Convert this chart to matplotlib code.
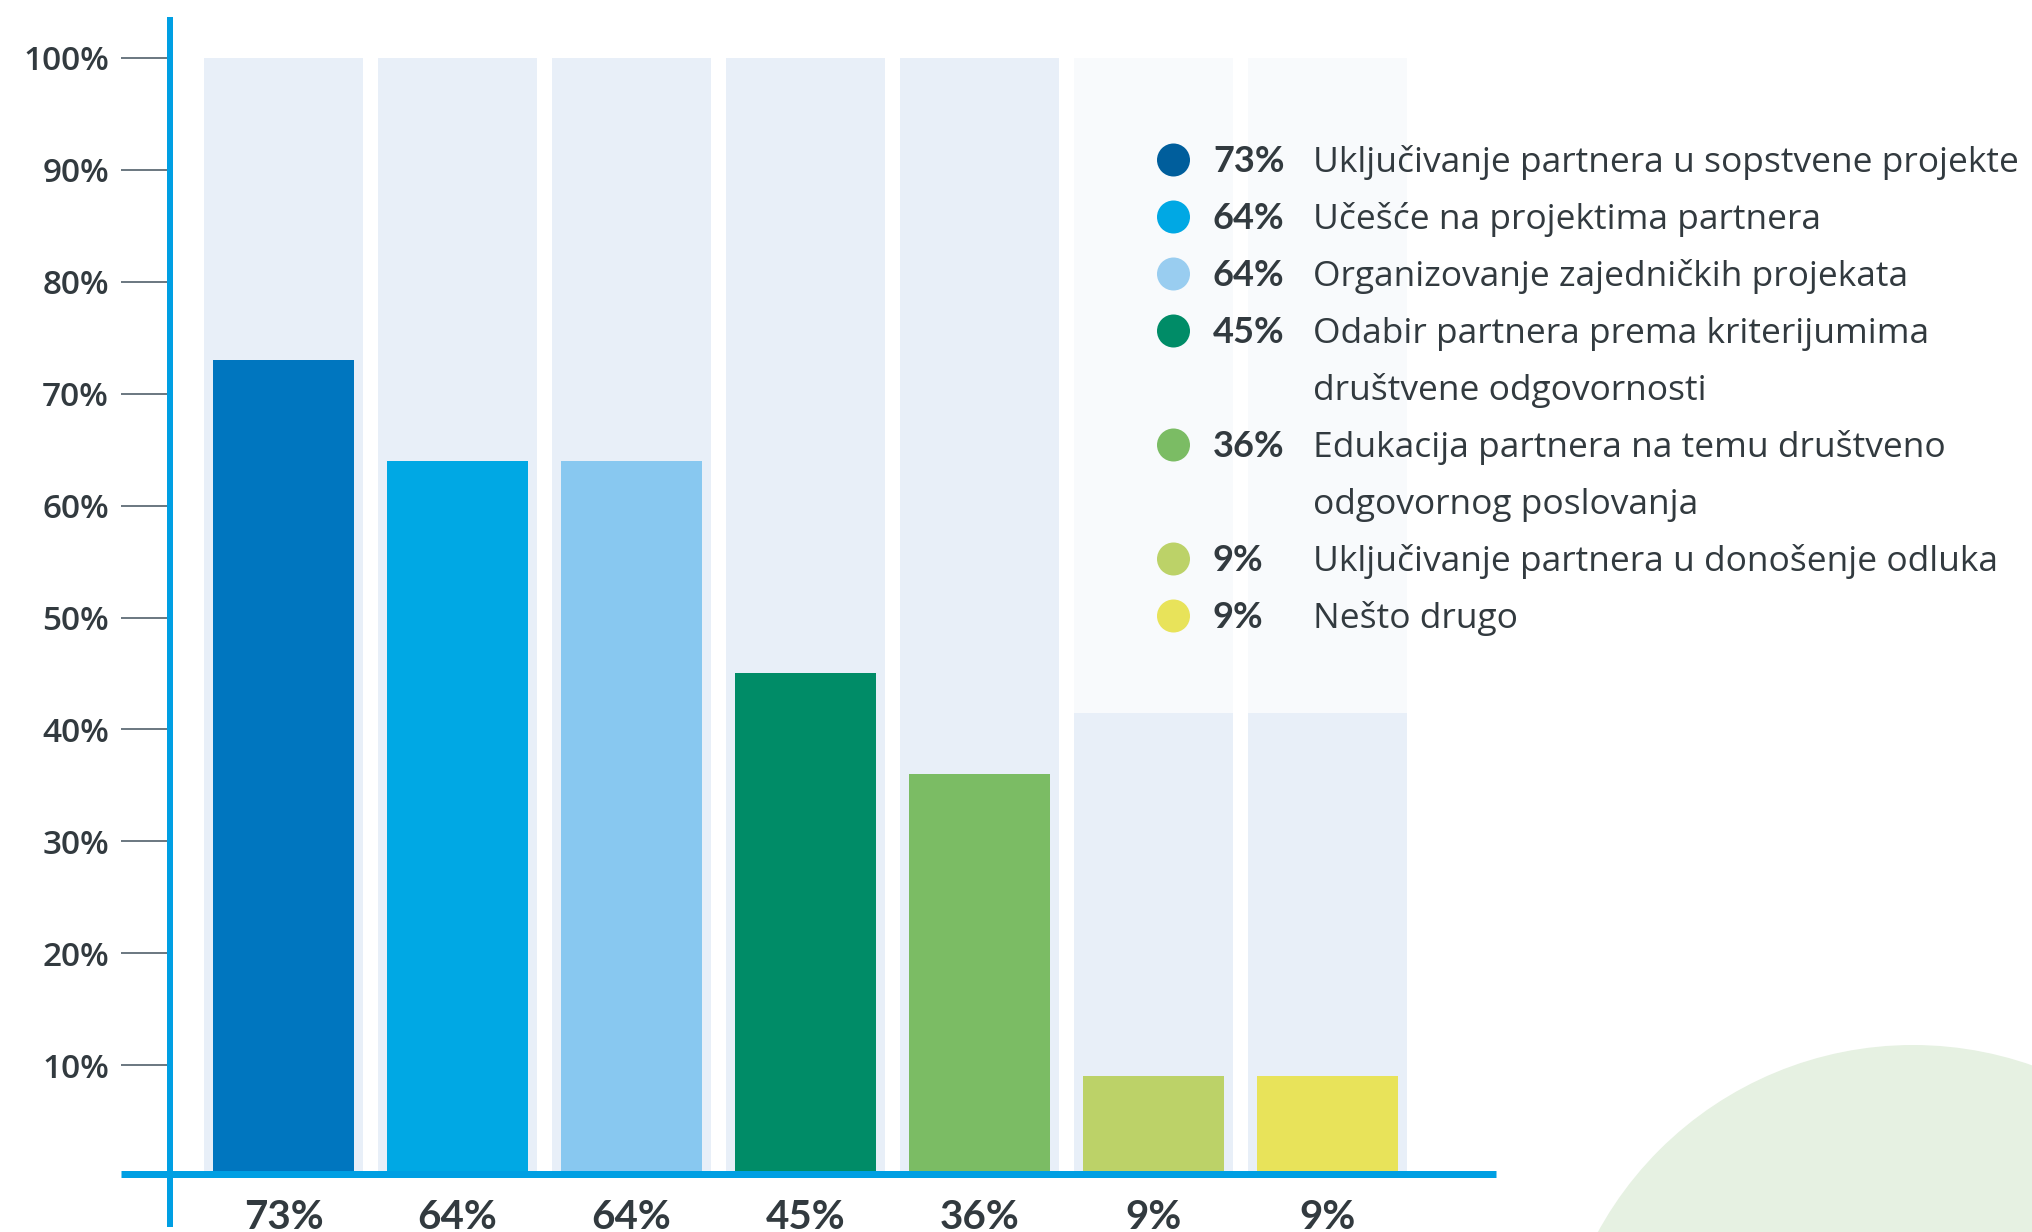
import numpy as np
import matplotlib
matplotlib.use('Agg')
import matplotlib.pyplot as plt
from matplotlib.patches import Circle, Rectangle

plt.rcParams['font.family'] = ['Lato', 'DejaVu Sans']

# survey answers, share of respondents (%)
values = [73, 64, 64, 45, 36, 9, 9]
labels = ['Uključivanje partnera u sopstvene projekte',
          'Učešće na projektima partnera',
          'Organizovanje zajedničkih projekata',
          'Odabir partnera prema kriterijumima\ndruštvene odgovornosti',
          'Edukacija partnera na temu društveno\nodgovornog poslovanja',
          'Uključivanje partnera u donošenje odluka',
          'Nešto drugo']
bar_colors = ['#0076BF', '#00A8E4', '#88C8F0', '#008C67',
              '#7BBC64', '#BCD268', '#E8E35A']
legend_colors = ['#005E9C', '#00A8E4', '#99CDF0', '#008C67',
                 '#7BBC64', '#BCD268', '#E8E35A']
yticks = [10, 20, 30, 40, 50, 60, 70, 80, 90, 100]

TEXT = '#323A3F'
BLUE = '#009FE3'
W, H = 2033, 1232

fig = plt.figure(figsize=(W / 100, H / 100), dpi=100)

# plot area in pixels: x 171..1496, y 58 (100%) .. 1177 (0%)
ax = fig.add_axes([171 / W, (H - 1177) / H, (1496 - 171) / W, (1177 - 58) / H])
x = np.arange(len(values))
ax.bar(x, [100] * len(values), width=0.914, color='#E8EFF8', zorder=1)
ax.bar(x, values, width=0.805, color=bar_colors, zorder=2)
ax.set_xlim(-0.6466, 6.9684)
ax.set_ylim(0, 100)
for s in ax.spines.values():
    s.set_visible(False)
ax.set_xticks([])
ax.set_yticks(yticks)
ax.set_yticklabels(['{}%'.format(t) for t in yticks],
                   fontsize=24, color=TEXT, fontweight='semibold',
                   family=['Open Sans', 'DejaVu Sans'])
ax.tick_params(axis='y', length=36, width=1.44, color='#6E7A83', pad=8.6)

# axis lines (run past the plot area)
ax.plot([-0.00075, -0.00075], [-0.0447, 1.0366], transform=ax.transAxes,
        clip_on=False, lw=4.32, color=BLUE, solid_capstyle='butt', zorder=4)
ax.plot([-0.0377, 1.0], [0.0031, 0.0031], transform=ax.transAxes,
        clip_on=False, lw=5.04, color=BLUE, solid_capstyle='butt', zorder=4)

for i, v in enumerate(values):
    ax.text(i, -4.65, '{}%'.format(v), ha='center', va='baseline',
            fontsize=29, fontweight='bold', color=TEXT, clip_on=False)

# overlay in pixel coordinates for legend and decoration
ov = fig.add_axes([0, 0, 1, 1])
ov.set_xlim(0, W)
ov.set_ylim(H, 0)
ov.axis('off')
ov.add_patch(Circle((1913, 1404), 359, fc='#E6F1E2', ec='none', zorder=0))
ov.add_patch(Rectangle((1066, 0), W - 1066, 713, fc='white', alpha=0.7,
                       ec='none', zorder=1))

row = 0
for v, lab, c in zip(values, labels, legend_colors):
    y = 160 + 57 * row
    ov.add_patch(Circle((1173.5, y), 16.5, fc=c, ec='none', zorder=2))
    ov.text(1213, y + 12, '{}%'.format(v), fontsize=26, fontweight='bold',
            color=TEXT, va='baseline', zorder=3)
    for k, line in enumerate(lab.split('\n')):
        ov.text(1313, y + 12 + 57 * k, line, fontsize=25.5, color=TEXT,
                va='baseline', zorder=3,
                family=['Open Sans', 'DejaVu Sans'])
    row += lab.count('\n') + 1

fig.savefig('out.png', dpi=100)
